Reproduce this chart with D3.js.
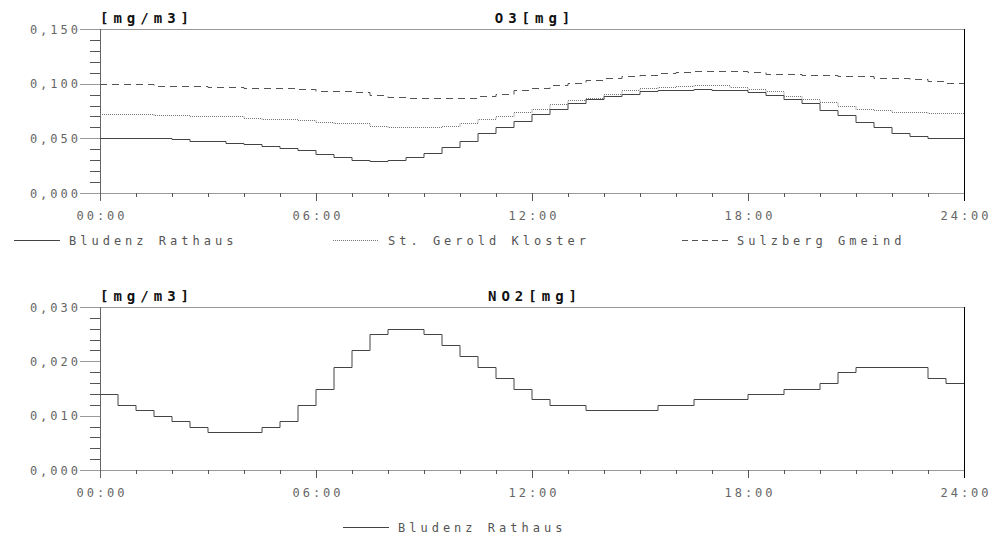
<!DOCTYPE html>
<html>
<head>
<meta charset="utf-8">
<script src="https://cdn.jsdelivr.net/npm/d3@7"></script>
<style>
  body { margin: 0; background: #fff; }
  svg { display: block; }
  text { font-family: "DejaVu Sans Mono", monospace; }
</style>
</head>
<body>
<svg id="chart" width="993" height="538"></svg>
<script>
// half-hour slots over one day
const hours = d3.range(48).map(i => i / 2);

const bludenzO3 = [0.050,0.050,0.050,0.050,0.049,0.048,0.048,0.046,0.045,0.043,0.041,0.039,
  0.036,0.033,0.030,0.029,0.030,0.033,0.037,0.042,0.048,0.055,0.060,0.066,
  0.072,0.077,0.082,0.086,0.089,0.091,0.093,0.094,0.094,0.095,0.094,0.094,
  0.092,0.090,0.086,0.082,0.076,0.071,0.065,0.060,0.055,0.052,0.050,0.050];
const geroldO3 = [0.072,0.072,0.072,0.071,0.071,0.070,0.070,0.070,0.069,0.068,0.068,0.067,
  0.065,0.064,0.064,0.061,0.060,0.060,0.060,0.061,0.064,0.068,0.070,0.074,
  0.077,0.081,0.085,0.087,0.091,0.094,0.096,0.097,0.098,0.099,0.099,0.097,
  0.095,0.093,0.089,0.086,0.083,0.080,0.077,0.076,0.074,0.074,0.073,0.073];
const sulzbergO3 = [0.100,0.100,0.100,0.098,0.098,0.098,0.097,0.097,0.096,0.096,0.096,0.095,
  0.093,0.093,0.092,0.090,0.088,0.087,0.087,0.087,0.087,0.089,0.091,0.094,
  0.096,0.099,0.101,0.103,0.105,0.107,0.108,0.110,0.111,0.112,0.112,0.112,
  0.111,0.109,0.109,0.108,0.108,0.107,0.107,0.105,0.105,0.104,0.102,0.101];
const bludenzNO2 = [0.014,0.012,0.011,0.010,0.009,0.008,0.007,0.007,0.007,0.008,0.009,0.012,
  0.015,0.019,0.022,0.025,0.026,0.026,0.025,0.023,0.021,0.019,0.017,0.015,
  0.013,0.012,0.012,0.011,0.011,0.011,0.011,0.012,0.012,0.013,0.013,0.013,
  0.014,0.014,0.015,0.015,0.016,0.018,0.019,0.019,0.019,0.019,0.017,0.016];

const xTicks = [0, 6, 12, 18, 24];
const xMinor = d3.range(0, 25);
const o3Ticks = [0, 0.05, 0.10, 0.15];
const o3Minor = d3.range(0, 0.1501, 0.01);
const no2Ticks = [0, 0.01, 0.02, 0.03];
const no2Minor = d3.range(0, 0.0301, 0.002);

const svg = d3.select('#chart');
const fmtY = v => d3.format('.3f')(v).replace('.', ',');
const fmtX = h => d3.format('02')(h) + ':00';

const x = d3.scaleLinear().domain([0, 24]).range([100, 964]);

function panel(cfg) {
  const y = d3.scaleLinear().domain([0, cfg.max]).range([cfg.bottom, cfg.top]);
  const g = svg.append('g');
  const px = v => Math.round(v) + 0.5;

  // top frame line
  g.append('line').attr('x1', 100).attr('x2', 964)
    .attr('y1', px(cfg.top)).attr('y2', px(cfg.top))
    .attr('stroke', '#999');

  // y minor ticks
  g.selectAll('.ymin').data(cfg.minor).enter().append('line')
    .attr('x1', 90).attr('x2', 100)
    .attr('y1', d => px(y(d))).attr('y2', d => px(y(d)))
    .attr('stroke', '#555');
  // y major ticks
  g.selectAll('.ymaj').data(cfg.ticks).enter().append('line')
    .attr('x1', 80).attr('x2', 100)
    .attr('y1', d => px(y(d))).attr('y2', d => px(y(d)))
    .attr('stroke', '#999');
  g.selectAll('.ylab').data(cfg.ticks).enter().append('text')
    .attr('x', 81).attr('y', d => y(d) + 4.5)
    .attr('text-anchor', 'end')
    .attr('font-size', 12).attr('letter-spacing', 3)
    .attr('fill', '#666')
    .text(fmtY);

  // x axis line
  g.append('line').attr('x1', 100).attr('x2', 964)
    .attr('y1', px(cfg.bottom)).attr('y2', px(cfg.bottom))
    .attr('stroke', '#999');
  // x minor & major ticks
  g.selectAll('.xmin').data(xMinor).enter().append('line')
    .attr('x1', d => px(x(d))).attr('x2', d => px(x(d)))
    .attr('y1', cfg.bottom).attr('y2', cfg.bottom + 4)
    .attr('stroke', '#555');
  g.selectAll('.xmaj').data(xTicks).enter().append('line')
    .attr('x1', d => px(x(d))).attr('x2', d => px(x(d)))
    .attr('y1', cfg.bottom).attr('y2', cfg.bottom + 8)
    .attr('stroke', '#555');
  g.selectAll('.xlab').data(xTicks).enter().append('text')
    .attr('x', d => x(d) + 2).attr('y', cfg.bottom + 27)
    .attr('text-anchor', 'middle')
    .attr('font-size', 12).attr('letter-spacing', 3)
    .attr('fill', '#666')
    .text(fmtX);

  // left axis line
  g.append('line').attr('x1', 100.5).attr('x2', 100.5)
    .attr('y1', cfg.top).attr('y2', cfg.bottom + 8)
    .attr('stroke', '#666');
  // right frame (black)
  g.append('line').attr('x1', 964.5).attr('x2', 964.5)
    .attr('y1', cfg.top).attr('y2', cfg.bottom + 8)
    .attr('stroke', '#000');

  // unit and title
  g.append('text').attr('x', 100).attr('y', cfg.top - 6)
    .attr('font-size', 14).attr('font-weight', 'bold').attr('letter-spacing', 5)
    .attr('fill', '#111').text('[mg/m3]');
  g.append('text').attr('x', 535).attr('y', cfg.top - 6)
    .attr('text-anchor', 'middle')
    .attr('font-size', 14).attr('font-weight', 'bold').attr('letter-spacing', 5)
    .attr('fill', '#111').text(cfg.title);

  // step series
  const line = d3.line().x(d => x(d[0])).y(d => px(y(d[1]))).curve(d3.curveStepAfter);
  cfg.series.forEach(s => {
    const pts = hours.map((h, i) => [h, s.values[i]]).concat([[24, s.values[s.values.length - 1]]]);
    g.append('path').datum(pts)
      .attr('d', line)
      .attr('fill', 'none')
      .attr('stroke', s.color)
      .attr('stroke-width', 1)
      .attr('stroke-dasharray', s.dash);
  });

  // legend
  cfg.legend.forEach(l => {
    g.append('line').attr('x1', l.x).attr('x2', l.x + 46)
      .attr('y1', l.y + 0.5).attr('y2', l.y + 0.5)
      .attr('stroke', l.color).attr('stroke-dasharray', l.dash);
    g.append('text').attr('x', l.x + 55).attr('y', l.y + 5)
      .attr('font-size', 12).attr('letter-spacing', 4)
      .attr('fill', '#555').text(l.name);
  });
}

const names = ['Bludenz Rathaus', 'St. Gerold Kloster', 'Sulzberg Gmeind'];
const styles = [
  { color: '#444', dash: null },
  { color: '#777', dash: '1,1' },
  { color: '#555', dash: '7,5' }
];

panel({
  top: 29, bottom: 193, max: 0.15, title: 'O3[mg]',
  ticks: o3Ticks, minor: o3Minor,
  series: [bludenzO3, geroldO3, sulzbergO3].map((v, i) => ({ values: v, color: styles[i].color, dash: styles[i].dash })),
  legend: [
    { x: 14, y: 240, name: names[0], color: styles[0].color, dash: null },
    { x: 333, y: 240, name: names[1], color: styles[1].color, dash: '1,1' },
    { x: 682, y: 240, name: names[2], color: styles[2].color, dash: '6,4' }
  ]
});

panel({
  top: 307, bottom: 470, max: 0.03, title: 'NO2[mg]',
  ticks: no2Ticks, minor: no2Minor,
  series: [{ values: bludenzNO2, color: styles[0].color, dash: null }],
  legend: [
    { x: 343, y: 527, name: names[0], color: styles[0].color, dash: null }
  ]
});
</script>
</body>
</html>
